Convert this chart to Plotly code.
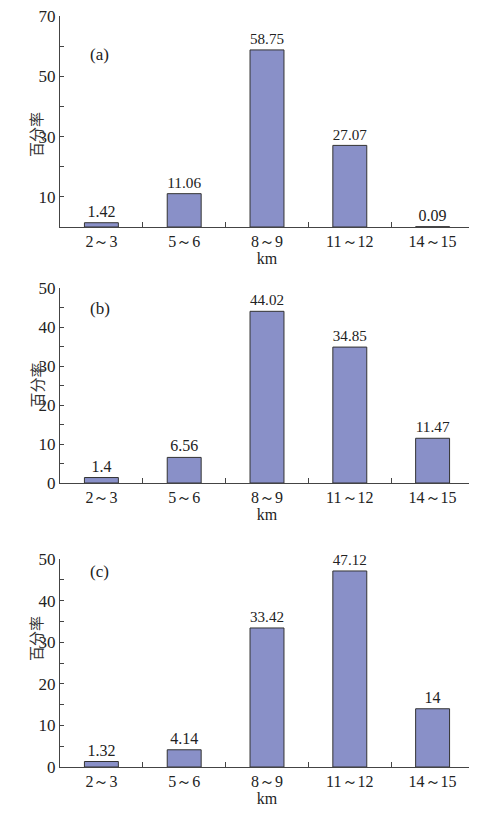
import plotly.graph_objects as go

categories = ["2～3", "5～6", "8～9", "11～12", "14～15"]
values_a = [1.42, 11.06, 58.75, 27.07, 0.09]
values_b = [1.4, 6.56, 44.02, 34.85, 11.47]
values_c = [1.32, 4.14, 33.42, 47.12, 14]
labels_a = ["1.42", "11.06", "58.75", "27.07", "0.09"]
labels_b = ["1.4", "6.56", "44.02", "34.85", "11.47"]
labels_c = ["1.32", "4.14", "33.42", "47.12", "14"]
panel_names = ["(a)", "(b)", "(c)"]
y_title = "百分率"
x_title = "km"

# page body has an 8px margin: the figure starts at (8, 8) in the window
OFF = 8
W, H = 477 - OFF, 815 - OFF
SERIF = "Liberation Serif"
AX = "#444444"
BAR = "#8990c8"

def px_x(x):
    return (x - OFF) / W

def px_y(y):
    return 1 - (y - OFF) / H

x_dom = [px_x(60), px_x(474)]
y_doms = [
    [px_y(227), px_y(16)],
    [px_y(483), px_y(288)],
    [px_y(767), px_y(559)],
]

fig = go.Figure()
series = [(values_a, labels_a), (values_b, labels_b), (values_c, labels_c)]
for i, (vals, labs) in enumerate(series):
    n = "" if i == 0 else str(i + 1)
    fig.add_trace(go.Bar(
        x=categories, y=vals, text=labs, textposition="outside",
        textfont=dict(family=SERIF, size=16, color="#222222"),
        cliponaxis=False,
        marker=dict(color=BAR, line=dict(color="#333333", width=1)),
        width=0.41, xaxis="x" + n, yaxis="y" + n, showlegend=False,
    ))

layout = dict(
    width=W, height=H, margin=dict(l=0, r=0, t=0, b=0),
    paper_bgcolor="white", plot_bgcolor="white",
    font=dict(family=SERIF, size=16, color="#222222"),
)

for i in range(3):
    n = "" if i == 0 else str(i + 1)
    layout["xaxis" + n] = dict(
        domain=x_dom, anchor="y" + n, type="category", automargin=False,
        range=[-0.5, 4.5], tickson="boundaries", ticks="inside", ticklen=5,
        tickcolor=AX, showline=True, linecolor=AX, linewidth=1,
        showgrid=False, zeroline=False,
        tickfont=dict(family=SERIF, size=16, color="#222222"),
        title=dict(text=x_title, standoff=3,
                   font=dict(family=SERIF, size=16, color="#222222")),
    )
    yax = dict(
        domain=y_doms[i], anchor="x" + n, showline=True, linecolor=AX,
        linewidth=1, ticks="inside", ticklen=4, tickcolor=AX, automargin=False,
        showgrid=False, zeroline=False, ticklabeloverflow="allow",
        tickfont=dict(family=SERIF, size=17, color="#222222"),
    )
    if i == 0:
        yax.update(range=[0, 70], tickmode="array",
                   tickvals=[10, 20, 30, 40, 50, 60, 70],
                   ticktext=["10", "", "30", "", "50", "", "70"])
    else:
        yax.update(range=[0, 50], dtick=10, tick0=0,
                   minor=dict(dtick=5, ticks="inside", ticklen=4, tickcolor=AX))
    layout["yaxis" + n] = yax

fig.update_layout(**layout)

label_ys = [43, 308, 583]
title_ys = [110, 385, 663]
for i in range(3):
    fig.add_annotation(x=px_x(88), y=px_y(label_ys[i]), xref="paper", yref="paper",
                       text=panel_names[i], showarrow=False,
                       font=dict(family=SERIF, size=17, color="#222222"))
    fig.add_annotation(x=px_x(23), y=px_y(title_ys[i]), xref="paper", yref="paper",
                       text=y_title, showarrow=False, textangle=-90,
                       font=dict(family="Noto Sans CJK SC", size=15, color="#333333"))

fig.write_html("out.html")
